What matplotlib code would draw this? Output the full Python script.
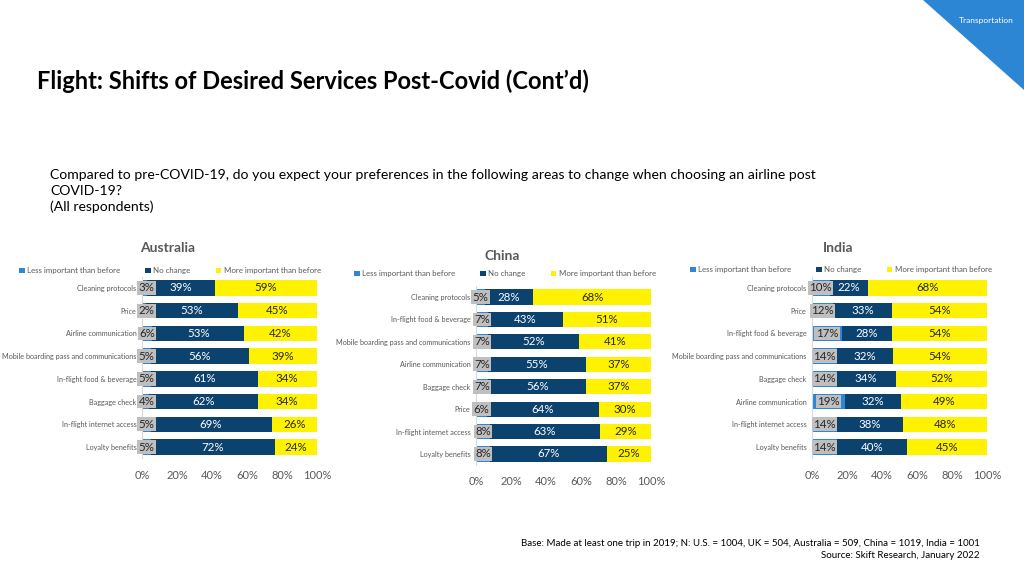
import numpy as np
import matplotlib.pyplot as plt
from matplotlib.patches import Polygon

plt.rcParams['font.family'] = ['Lato', 'DejaVu Sans']

series = ["Less important than before", "No change", "More important than before"]

aus_cats = ["Cleaning protocols", "Price", "Airline communication",
            "Mobile boarding pass and communications", "In-flight food & beverage",
            "Baggage check", "In-flight internet access", "Loyalty benefits"]
aus_less = [3, 2, 6, 5, 5, 4, 5, 5]
aus_same = [39, 53, 53, 56, 61, 62, 69, 72]
aus_more = [59, 45, 42, 39, 34, 34, 26, 24]

chn_cats = ["Cleaning protocols", "In-flight food & beverage",
            "Mobile boarding pass and communications", "Airline communication",
            "Baggage check", "Price", "In-flight internet access", "Loyalty benefits"]
chn_less = [5, 7, 7, 7, 7, 6, 8, 8]
chn_same = [28, 43, 52, 55, 56, 64, 63, 67]
chn_more = [68, 51, 41, 37, 37, 30, 29, 25]

ind_cats = ["Cleaning protocols", "Price", "In-flight food & beverage",
            "Mobile boarding pass and communications", "Baggage check",
            "Airline communication", "In-flight internet access", "Loyalty benefits"]
ind_less = [10, 12, 17, 14, 14, 19, 14, 14]
ind_same = [22, 33, 28, 32, 34, 32, 38, 40]
ind_more = [68, 54, 54, 54, 52, 49, 48, 45]

ticks = [0, 20, 40, 60, 80, 100]

c_less = "#2E86D6"
c_same = "#0B426E"
c_more = "#FFF200"
grey = "#595959"

fig = plt.figure(figsize=(10.24, 5.7), dpi=100)

# corner banner
fig.patches.append(Polygon([[923 / 1024, 1], [1, 1], [1, 1 - 90 / 570]], closed=True,
                           transform=fig.transFigure, facecolor="#2D86D4", edgecolor="none"))
fig.text(986 / 1024, 1 - 21 / 570, "Transportation", color="white", fontsize=6, ha="center", va="center")

fig.text(37 / 1024, 1 - 81 / 570, "Flight: Shifts of Desired Services Post-Covid (Cont\u2019d)",
         fontsize=17, fontweight="bold", ha="left", va="center")
fig.text(50 / 1024, 1 - 169 / 570,
         "Compared to pre-COVID-19, do you expect your preferences in the following areas to change when choosing an airline post\nCOVID-19?\n(All respondents)",
         fontsize=10.1, ha="left", va="top", linespacing=1.38)

fig.text(980 / 1024, 1 - 544 / 570,
         "Base: Made at least one trip in 2019; N: U.S. = 1004, UK = 504, Australia = 509, China = 1019, India = 1001",
         fontsize=7.05, ha="right", va="center")
fig.text(980 / 1024, 1 - 556 / 570, "Source: Skift Research, January 2022", fontsize=7.05, ha="right", va="center")


def panel(rect, title, title_xy, leg_xy, cats, less, same, more):
    ax = fig.add_axes(rect)
    y = np.arange(len(cats))
    less = np.array(less)
    same = np.array(same)
    more = np.array(more)
    # rounded shares do not always add to 100, bars are shown as share of the row total
    k = 100 / (less + same + more)
    w1, w2, w3 = less * k, same * k, more * k
    h = 0.68
    b1 = ax.barh(y, w1, height=h, color=c_less, label=series[0])
    b2 = ax.barh(y, w2, left=w1, height=h, color=c_same, label=series[1])
    b3 = ax.barh(y, w3, left=w1 + w2, height=h, color=c_more, label=series[2])
    for i in range(len(cats)):
        ax.text(max(w1[i] / 2, 2.5), y[i], f"{less[i]}%", ha="center", va="center",
                fontsize=8.3, color="#262626",
                bbox=dict(boxstyle="square,pad=0.12", facecolor="#BFBFBF", edgecolor="none"))
        ax.text(w1[i] + w2[i] / 2, y[i], f"{same[i]}%", ha="center", va="center",
                fontsize=8.3, color="white")
        ax.text(w1[i] + w2[i] + w3[i] / 2, y[i], f"{more[i]}%", ha="center", va="center",
                fontsize=8.3, color="#262626")
    ax.set_xlim(0, 100)
    ax.set_ylim(len(cats) - 0.5, -0.5)
    ax.set_yticks(y)
    ax.set_yticklabels(cats, fontsize=5.2, color=grey)
    ax.set_xticks(ticks)
    ax.set_xticklabels([f"{t}%" for t in ticks], fontsize=8, color=grey)
    ax.tick_params(length=0, pad=4)
    ax.tick_params(axis="x", pad=8)
    for s in ["top", "right", "bottom"]:
        ax.spines[s].set_visible(False)
    ax.spines["left"].set_color("#D9D9D9")
    ax.spines["left"].set_linewidth(0.8)
    fig.text(title_xy[0] / 1024, 1 - title_xy[1] / 570, title, fontsize=10, fontweight="bold",
             color=grey, ha="center", va="center")
    ax.legend(handles=[b1, b2, b3], loc="center", ncol=3, frameon=False,
              bbox_to_anchor=(leg_xy[0] / 1024, 1 - leg_xy[1] / 570), bbox_transform=fig.transFigure,
              fontsize=5.7, labelcolor=grey, handlelength=0.7, handleheight=0.7,
              handletextpad=0.3, columnspacing=3.2, borderaxespad=0)
    return ax


panel([142 / 1024, 1 - 458.4 / 570, 175 / 1024, 181.8 / 570], "Australia", (168, 248), (170, 271),
      aus_cats, aus_less, aus_same, aus_more)
panel([476 / 1024, 1 - 465.2 / 570, 175 / 1024, 179.4 / 570], "China", (502, 256), (505, 274),
      chn_cats, chn_less, chn_same, chn_more)
panel([812 / 1024, 1 - 458.4 / 570, 175 / 1024, 181.8 / 570], "India", (838, 248), (841, 270),
      ind_cats, ind_less, ind_same, ind_more)

plt.savefig("out.png", dpi=100)
